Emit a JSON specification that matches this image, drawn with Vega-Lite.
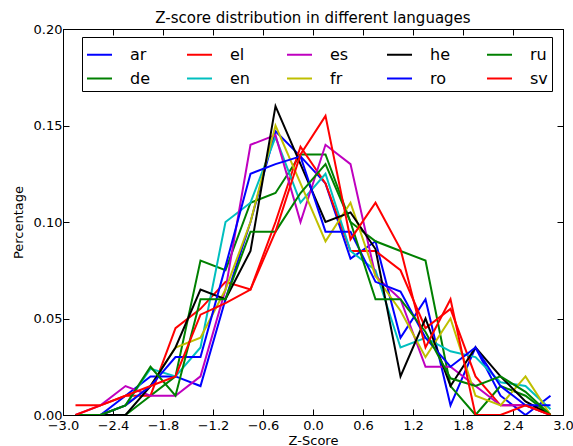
{
  "$schema": "https://vega.github.io/schema/vega-lite/v6.json",
  "autosize": "none",
  "width": 500,
  "height": 386,
  "padding": {"left": 63, "top": 29, "right": 10, "bottom": 31},
  "background": "white",
  "config": {
    "font": "DejaVu Sans",
    "view": {"stroke": "black", "strokeWidth": 1},
    "axis": {"grid": false, "domainColor": "black", "tickColor": "black", "labelColor": "black", "titleColor": "black", "labelFont": "DejaVu Sans", "titleFont": "DejaVu Sans", "labelFontSize": 13, "titleFontSize": 13, "titleFontWeight": "normal", "tickSize": -6, "tickWidth": 1}
  },
  "title": {"text": "Z-score distribution in different languages", "font": "DejaVu Sans", "fontSize": 15, "fontWeight": "normal", "anchor": "middle", "offset": -3, "color": "black"},
  "data": {"values": [
    {"lang":"ar","z":-2.85,"pct":0},{"lang":"ar","z":-2.55,"pct":0},{"lang":"ar","z":-2.25,"pct":0.01},{"lang":"ar","z":-1.95,"pct":0.02},{"lang":"ar","z":-1.65,"pct":0.02},{"lang":"ar","z":-1.35,"pct":0.015},{"lang":"ar","z":-1.05,"pct":0.06},{"lang":"ar","z":-0.75,"pct":0.10},{"lang":"ar","z":-0.45,"pct":0.147},{"lang":"ar","z":-0.15,"pct":0.134},{"lang":"ar","z":0.15,"pct":0.12},{"lang":"ar","z":0.45,"pct":0.081},{"lang":"ar","z":0.75,"pct":0.09},{"lang":"ar","z":1.05,"pct":0.04},{"lang":"ar","z":1.35,"pct":0.06},{"lang":"ar","z":1.65,"pct":0.005},{"lang":"ar","z":1.95,"pct":0.035},{"lang":"ar","z":2.25,"pct":0.01},{"lang":"ar","z":2.55,"pct":0},{"lang":"ar","z":2.85,"pct":0.01},
    {"lang":"de","z":-2.85,"pct":0},{"lang":"de","z":-2.55,"pct":0},{"lang":"de","z":-2.25,"pct":0},{"lang":"de","z":-1.95,"pct":0.01},{"lang":"de","z":-1.65,"pct":0.02},{"lang":"de","z":-1.35,"pct":0.08},{"lang":"de","z":-1.05,"pct":0.075},{"lang":"de","z":-0.75,"pct":0.11},{"lang":"de","z":-0.45,"pct":0.115},{"lang":"de","z":-0.15,"pct":0.135},{"lang":"de","z":0.15,"pct":0.135},{"lang":"de","z":0.45,"pct":0.10},{"lang":"de","z":0.75,"pct":0.09},{"lang":"de","z":1.05,"pct":0.085},{"lang":"de","z":1.35,"pct":0.08},{"lang":"de","z":1.65,"pct":0.015},{"lang":"de","z":1.95,"pct":0},{"lang":"de","z":2.25,"pct":0.015},{"lang":"de","z":2.55,"pct":0.01},{"lang":"de","z":2.85,"pct":0},
    {"lang":"el","z":-2.85,"pct":0.005},{"lang":"el","z":-2.55,"pct":0.005},{"lang":"el","z":-2.25,"pct":0.01},{"lang":"el","z":-1.95,"pct":0.01},{"lang":"el","z":-1.65,"pct":0.045},{"lang":"el","z":-1.35,"pct":0.055},{"lang":"el","z":-1.05,"pct":0.069},{"lang":"el","z":-0.75,"pct":0.065},{"lang":"el","z":-0.45,"pct":0.10},{"lang":"el","z":-0.15,"pct":0.139},{"lang":"el","z":0.15,"pct":0.12},{"lang":"el","z":0.45,"pct":0.085},{"lang":"el","z":0.75,"pct":0.085},{"lang":"el","z":1.05,"pct":0.075},{"lang":"el","z":1.35,"pct":0.045},{"lang":"el","z":1.65,"pct":0.055},{"lang":"el","z":1.95,"pct":0.02},{"lang":"el","z":2.25,"pct":0.005},{"lang":"el","z":2.55,"pct":0.005},{"lang":"el","z":2.85,"pct":0},
    {"lang":"en","z":-2.85,"pct":0},{"lang":"en","z":-2.55,"pct":0},{"lang":"en","z":-2.25,"pct":0.005},{"lang":"en","z":-1.95,"pct":0.024},{"lang":"en","z":-1.65,"pct":0.02},{"lang":"en","z":-1.35,"pct":0.035},{"lang":"en","z":-1.05,"pct":0.10},{"lang":"en","z":-0.75,"pct":0.11},{"lang":"en","z":-0.45,"pct":0.144},{"lang":"en","z":-0.15,"pct":0.11},{"lang":"en","z":0.15,"pct":0.125},{"lang":"en","z":0.45,"pct":0.085},{"lang":"en","z":0.75,"pct":0.075},{"lang":"en","z":1.05,"pct":0.035},{"lang":"en","z":1.35,"pct":0.04},{"lang":"en","z":1.65,"pct":0.033},{"lang":"en","z":1.95,"pct":0.03},{"lang":"en","z":2.25,"pct":0.017},{"lang":"en","z":2.55,"pct":0.015},{"lang":"en","z":2.85,"pct":0.003},
    {"lang":"es","z":-2.85,"pct":0},{"lang":"es","z":-2.55,"pct":0.005},{"lang":"es","z":-2.25,"pct":0.015},{"lang":"es","z":-1.95,"pct":0.01},{"lang":"es","z":-1.65,"pct":0.01},{"lang":"es","z":-1.35,"pct":0.02},{"lang":"es","z":-1.05,"pct":0.065},{"lang":"es","z":-0.75,"pct":0.14},{"lang":"es","z":-0.45,"pct":0.145},{"lang":"es","z":-0.15,"pct":0.10},{"lang":"es","z":0.15,"pct":0.14},{"lang":"es","z":0.45,"pct":0.13},{"lang":"es","z":0.75,"pct":0.072},{"lang":"es","z":1.05,"pct":0.06},{"lang":"es","z":1.35,"pct":0.025},{"lang":"es","z":1.65,"pct":0.025},{"lang":"es","z":1.95,"pct":0.015},{"lang":"es","z":2.25,"pct":0.005},{"lang":"es","z":2.55,"pct":0.005},{"lang":"es","z":2.85,"pct":0},
    {"lang":"fr","z":-2.85,"pct":0},{"lang":"fr","z":-2.55,"pct":0},{"lang":"fr","z":-2.25,"pct":0.005},{"lang":"fr","z":-1.95,"pct":0.015},{"lang":"fr","z":-1.65,"pct":0.035},{"lang":"fr","z":-1.35,"pct":0.04},{"lang":"fr","z":-1.05,"pct":0.065},{"lang":"fr","z":-0.75,"pct":0.10},{"lang":"fr","z":-0.45,"pct":0.15},{"lang":"fr","z":-0.15,"pct":0.12},{"lang":"fr","z":0.15,"pct":0.09},{"lang":"fr","z":0.45,"pct":0.11},{"lang":"fr","z":0.75,"pct":0.072},{"lang":"fr","z":1.05,"pct":0.054},{"lang":"fr","z":1.35,"pct":0.03},{"lang":"fr","z":1.65,"pct":0.05},{"lang":"fr","z":1.95,"pct":0.01},{"lang":"fr","z":2.25,"pct":0.005},{"lang":"fr","z":2.55,"pct":0.02},{"lang":"fr","z":2.85,"pct":0},
    {"lang":"he","z":-2.85,"pct":0},{"lang":"he","z":-2.55,"pct":0},{"lang":"he","z":-2.25,"pct":0},{"lang":"he","z":-1.95,"pct":0.015},{"lang":"he","z":-1.65,"pct":0.035},{"lang":"he","z":-1.35,"pct":0.065},{"lang":"he","z":-1.05,"pct":0.06},{"lang":"he","z":-0.75,"pct":0.085},{"lang":"he","z":-0.45,"pct":0.16},{"lang":"he","z":-0.15,"pct":0.13},{"lang":"he","z":0.15,"pct":0.10},{"lang":"he","z":0.45,"pct":0.105},{"lang":"he","z":0.75,"pct":0.086},{"lang":"he","z":1.05,"pct":0.02},{"lang":"he","z":1.35,"pct":0.05},{"lang":"he","z":1.65,"pct":0.015},{"lang":"he","z":1.95,"pct":0.035},{"lang":"he","z":2.25,"pct":0.02},{"lang":"he","z":2.55,"pct":0.007},{"lang":"he","z":2.85,"pct":0},
    {"lang":"ro","z":-2.85,"pct":0},{"lang":"ro","z":-2.55,"pct":0},{"lang":"ro","z":-2.25,"pct":0.005},{"lang":"ro","z":-1.95,"pct":0.015},{"lang":"ro","z":-1.65,"pct":0.03},{"lang":"ro","z":-1.35,"pct":0.03},{"lang":"ro","z":-1.05,"pct":0.077},{"lang":"ro","z":-0.75,"pct":0.125},{"lang":"ro","z":-0.45,"pct":0.13},{"lang":"ro","z":-0.15,"pct":0.134},{"lang":"ro","z":0.15,"pct":0.095},{"lang":"ro","z":0.45,"pct":0.095},{"lang":"ro","z":0.75,"pct":0.069},{"lang":"ro","z":1.05,"pct":0.064},{"lang":"ro","z":1.35,"pct":0.04},{"lang":"ro","z":1.65,"pct":0.025},{"lang":"ro","z":1.95,"pct":0.035},{"lang":"ro","z":2.25,"pct":0.015},{"lang":"ro","z":2.55,"pct":0.005},{"lang":"ro","z":2.85,"pct":0.005},
    {"lang":"ru","z":-2.85,"pct":0},{"lang":"ru","z":-2.55,"pct":0},{"lang":"ru","z":-2.25,"pct":0.005},{"lang":"ru","z":-1.95,"pct":0.025},{"lang":"ru","z":-1.65,"pct":0.01},{"lang":"ru","z":-1.35,"pct":0.06},{"lang":"ru","z":-1.05,"pct":0.06},{"lang":"ru","z":-0.75,"pct":0.095},{"lang":"ru","z":-0.45,"pct":0.095},{"lang":"ru","z":-0.15,"pct":0.115},{"lang":"ru","z":0.15,"pct":0.13},{"lang":"ru","z":0.45,"pct":0.10},{"lang":"ru","z":0.75,"pct":0.06},{"lang":"ru","z":1.05,"pct":0.06},{"lang":"ru","z":1.35,"pct":0.043},{"lang":"ru","z":1.65,"pct":0.019},{"lang":"ru","z":1.95,"pct":0.015},{"lang":"ru","z":2.25,"pct":0.02},{"lang":"ru","z":2.55,"pct":0.012},{"lang":"ru","z":2.85,"pct":0},
    {"lang":"sv","z":-2.85,"pct":0},{"lang":"sv","z":-2.55,"pct":0.005},{"lang":"sv","z":-2.25,"pct":0.01},{"lang":"sv","z":-1.95,"pct":0.015},{"lang":"sv","z":-1.65,"pct":0.02},{"lang":"sv","z":-1.35,"pct":0.052},{"lang":"sv","z":-1.05,"pct":0.058},{"lang":"sv","z":-0.75,"pct":0.065},{"lang":"sv","z":-0.45,"pct":0.095},{"lang":"sv","z":-0.15,"pct":0.135},{"lang":"sv","z":0.15,"pct":0.155},{"lang":"sv","z":0.45,"pct":0.091},{"lang":"sv","z":0.75,"pct":0.11},{"lang":"sv","z":1.05,"pct":0.086},{"lang":"sv","z":1.35,"pct":0.035},{"lang":"sv","z":1.65,"pct":0.06},{"lang":"sv","z":1.95,"pct":0},{"lang":"sv","z":2.25,"pct":0},{"lang":"sv","z":2.55,"pct":0.005},{"lang":"sv","z":2.85,"pct":0}
  ]},
  "layer": [
    {
      "mark": {"type": "line", "strokeWidth": 2, "clip": true},
      "encoding": {
        "x": {"field": "z", "type": "quantitative", "scale": {"domain": [-3, 3], "nice": false, "zero": false},
              "axis": {"title": "Z-Score", "values": [-3, -2.4, -1.8, -1.2, -0.6, 0, 0.6, 1.2, 1.8, 2.4, 3], "format": ".1f", "labelPadding": 10, "titlePadding": 2, "labelFlush": false}},
        "y": {"field": "pct", "type": "quantitative", "scale": {"domain": [0, 0.2], "nice": false},
              "axis": {"title": "Percentage", "values": [0, 0.05, 0.1, 0.15, 0.2], "format": ".2f", "labelPadding": 7, "titlePadding": 8, "labelFlush": false}},
        "color": {"field": "lang", "type": "nominal",
                  "scale": {"domain": ["ar", "el", "es", "he", "ru", "de", "en", "fr", "ro", "sv"],
                            "range": ["#0000ff", "#ff0000", "#bf00bf", "#000000", "#008000", "#008000", "#00bfbf", "#bfbf00", "#0000ff", "#ff0000"]},
                  "legend": {"orient": "none", "legendX": 19, "legendY": 8, "columns": 5, "direction": "horizontal", "gridAlign": "all",
                             "title": null, "symbolType": "stroke", "symbolSize": 625, "symbolStrokeWidth": 2,
                             "labelFont": "DejaVu Sans", "labelFontSize": 16, "labelColor": "black", "labelOffset": 17,
                             "columnPadding": 33, "rowPadding": 2, "padding": 4, "strokeColor": "black", "fillColor": "white"}},
        "detail": {"field": "lang"}
      }
    },
    {
      "mark": {"type": "line", "opacity": 0},
      "encoding": {
        "x": {"field": "z", "type": "quantitative", "axis": {"orient": "top", "title": null, "labels": false, "values": [-3, -2.4, -1.8, -1.2, -0.6, 0, 0.6, 1.2, 1.8, 2.4, 3]}},
        "y": {"field": "pct", "type": "quantitative", "axis": {"orient": "right", "title": null, "labels": false, "values": [0, 0.05, 0.1, 0.15, 0.2]}},
        "detail": {"field": "lang"}
      }
    }
  ],
  "resolve": {"axis": {"x": "independent", "y": "independent"}}
}
